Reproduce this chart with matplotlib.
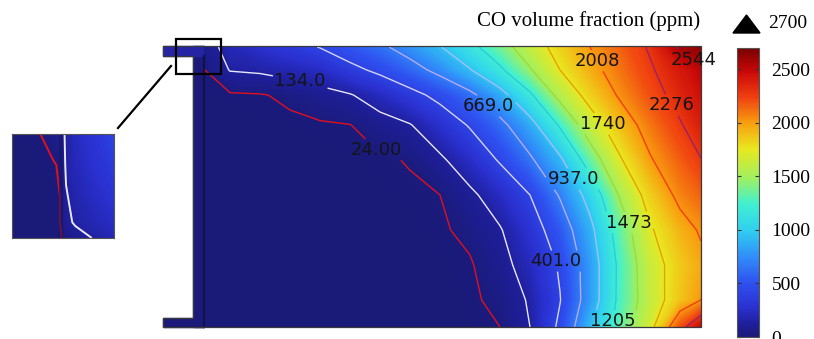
import numpy as np
import matplotlib
matplotlib.use("Agg")
import matplotlib.pyplot as plt
from matplotlib.colors import LinearSegmentedColormap, Normalize
from matplotlib.patches import Polygon, Rectangle
from matplotlib.path import Path

# CO volume fraction (ppm) sampled on a coarse grid over the domain (image pixels)
grid_x = [204, 230, 260, 290, 320, 350, 380, 410, 440, 470, 500, 530, 560, 590, 620, 650, 680, 701]
grid_y = [47, 70, 95, 125, 160, 195, 230, 265, 300, 327]
co_ppm = [
    [60, 193, 264, 335, 408, 517, 626, 765, 926, 1134, 1367, 1615, 1829, 2008, 2147, 2298, 2573, 2650],
    [20, 140, 153, 186, 230, 344, 446, 580, 733, 924, 1164, 1453, 1740, 1941, 2105, 2252, 2403, 2510],
    [8, 12, 18, 40, 82, 123, 218, 332, 463, 617, 848, 1170, 1548, 1827, 2035, 2196, 2348, 2450],
    [3, 4, 5, 8, 14, 22, 70, 125, 262, 420, 607, 848, 1235, 1617, 1891, 2096, 2260, 2380],
    [1, 1, 2, 2, 4, 7, 13, 29, 104, 241, 422, 634, 892, 1331, 1717, 1990, 2158, 2270],
    [0, 0, 1, 1, 2, 3, 6, 12, 24, 99, 227, 401, 689, 1026, 1497, 1839, 2062, 2150],
    [0, 0, 0, 1, 1, 2, 3, 6, 13, 44, 121, 286, 529, 870, 1327, 1713, 1928, 2030],
    [0, 0, 0, 0, 1, 1, 2, 4, 8, 16, 79, 209, 425, 791, 1263, 1633, 1853, 1960],
    [0, 0, 0, 0, 0, 1, 1, 2, 5, 12, 43, 150, 393, 791, 1269, 1613, 1874, 2010],
    [0, 0, 0, 0, 0, 0, 1, 1, 3, 9, 24, 134, 446, 905, 1317, 1667, 2199, 2480],
]

levels = [24, 134, 401, 669, 937, 1205, 1473, 1740, 2008, 2276, 2544]
level_labels = ["24.00", "134.0", "401.0", "669.0", "937.0", "1205", "1473", "1740", "2008", "2276", "2544"]
label_xy = [(384, 142), (300, 82), (558, 260), (492, 102), (577, 177), (608, 320),
            (630, 222), (605, 122), (597, 61), (667, 108), (697, 55)]
line_colors = ["#e0101e", "#e8e8f8", "#d4d4f8", "#b4aaf0", "#a0c0f8", "#30c8e0",
               "#a8d830", "#e8a000", "#f04010", "#a02060", "#8a1a6a"]

# zoomed corner (inset), normalised coordinates
inset_x = [0, 0.25, 0.40, 0.47, 0.53, 0.62, 0.8, 1.0]
inset_y = [0, 0.3, 0.6, 0.85, 1.0]
inset_ppm = [
    [6, 18, 50, 100, 145, 210, 300, 400],
    [4, 10, 18, 30, 150, 200, 270, 350],
    [3, 6, 12, 24, 125, 170, 230, 290],
    [2, 5, 10, 24, 100, 150, 190, 240],
    [2, 4, 8, 18, 40, 80, 140, 190],
]

cbar_ticks = [0, 500, 1000, 1500, 2000, 2500]
vmax = 2700

# colour table
cmap = LinearSegmentedColormap.from_list("comsol_rainbow", list(zip(
    [0, 0.04, 0.10, 0.185, 0.28, 0.37, 0.46, 0.55, 0.65, 0.74, 0.83, 0.92, 1.0],
    ["#1a1a78", "#1e1e98", "#2a30d0", "#2f50f0", "#3090f8", "#30d0f0", "#40f0d0",
     "#a0f060", "#e8e820", "#f8a010", "#f04010", "#c80808", "#7a0000"])))

serif = "Liberation Serif"


def cut_under_labels(fig, ax, cs, texts, pad=1.5):
    """break the contour lines where the (horizontal) labels sit"""
    fig.canvas.draw()
    r = fig.canvas.get_renderer()
    inv = ax.transData.inverted()
    boxes = []
    for t in texts:
        bb = t.get_window_extent(r)
        (x0, y0), (x1, y1) = inv.transform([[bb.x0 - pad, bb.y0 - pad], [bb.x1 + pad, bb.y1 + pad]])
        boxes.append((min(x0, x1), max(x0, x1), min(y0, y1), max(y0, y1)))
    new_paths = []
    for p in cs.get_paths():
        verts, codes = [], []
        for seg in p.to_polygons(closed_only=False):
            if len(seg) < 2:
                continue
            s = np.concatenate([[0], np.cumsum(np.hypot(*np.diff(seg, axis=0).T))])
            ss = np.linspace(0, s[-1], max(int(s[-1] * 2), 2))
            pts = np.column_stack([np.interp(ss, s, seg[:, 0]), np.interp(ss, s, seg[:, 1])])
            inside = np.zeros(len(pts), bool)
            for x0, x1, y0, y1 in boxes:
                inside |= (pts[:, 0] > x0) & (pts[:, 0] < x1) & (pts[:, 1] > y0) & (pts[:, 1] < y1)
            prev = False
            for pt, ins in zip(pts, inside):
                if ins:
                    prev = False
                    continue
                verts.append(pt)
                codes.append(Path.LINETO if prev else Path.MOVETO)
                prev = True
        if verts:
            new_paths.append(Path(np.array(verts), codes))
        else:
            new_paths.append(Path(np.zeros((0, 2))))
    cs.set_paths(new_paths)


fig = plt.figure(figsize=(8.14, 3.39), dpi=100)
fig.patch.set_facecolor("white")
ax = fig.add_axes([0, 0, 1, 1])
ax.set_xlim(0, 814)
ax.set_ylim(339, 0)
ax.axis("off")

# wall / flanges
ax.add_patch(Rectangle((193, 46), 11, 281, color="#1b1a7a", zorder=1))
ax.add_patch(Rectangle((163, 46), 41, 10, color="#2424a4", zorder=1))
ax.add_patch(Rectangle((163, 318), 41, 9, color="#1b1a7a", zorder=1))

GX, GY = np.meshgrid(grid_x, grid_y)
Z = np.array(co_ppm, dtype=float)
ax.contourf(GX, GY, Z, levels=np.linspace(0, vmax, 271), cmap=cmap,
            vmin=0, vmax=vmax, extend="both", zorder=1)
cs = ax.contour(GX, GY, Z, levels=levels, colors=line_colors, linewidths=1.0, zorder=2)
labs = ax.clabel(cs, manual=label_xy, inline=False,
                 fmt=dict(zip(levels, level_labels)), fontsize=13, colors="#151515")
for t in labs:
    t.set_rotation(0)

# outline of the geometry
ax.plot([204, 204], [56, 327], color="#12124a", lw=1.6, zorder=3)
ax.add_patch(Polygon([(163, 46), (701, 46), (701, 327), (163, 327), (163, 318),
                      (193, 318), (193, 56), (163, 56)], closed=True, fill=False,
                     edgecolor="#3a3a3a", lw=0.9, zorder=3))

# zoom box and connector
ax.add_patch(Rectangle((176, 39), 45, 35, fill=False, edgecolor="k", lw=1.6, zorder=5))
ax.plot([118, 171], [128, 66], color="k", lw=1.6, zorder=5)

# title, max marker
ax.text(700, 21, "CO volume fraction (ppm)", ha="right", va="center", fontsize=15, family=serif)
ax.add_patch(Polygon([(733, 33), (760, 33), (746.5, 15)], closed=True, color="k"))
ax.text(768, 23.5, "2700", ha="left", va="center", fontsize=14, family=serif)

# inset
iax = fig.add_axes([12 / 814, (339 - 238) / 339, 102 / 814, 104 / 339])
IX, IY = np.meshgrid(inset_x, inset_y)
IZ = np.array(inset_ppm, dtype=float)
iax.contourf(IX, IY, IZ, levels=np.linspace(0, vmax, 271), cmap=cmap, vmin=0, vmax=vmax, extend="both")
iax.contour(IX, IY, IZ, levels=levels[:2], colors=line_colors[:2], linewidths=1.4)
iax.axvline(0.485, color="#161660", lw=3, alpha=0.6)
iax.set_xlim(0, 1)
iax.set_ylim(1, 0)
iax.set_xticks([])
iax.set_yticks([])
for s in iax.spines.values():
    s.set_color("#555555")
    s.set_linewidth(0.8)

# colour bar
cax = fig.add_axes([737 / 814, 2 / 339, 22 / 814, 289 / 339])
sm = plt.cm.ScalarMappable(norm=Normalize(0, vmax), cmap=cmap)
cb = fig.colorbar(sm, cax=cax, ticks=cbar_ticks)
cb.ax.tick_params(direction="in", length=3, width=0.8, colors="#333333", labelcolor="k",
                  labelsize=14, pad=9, left=True)
for lab in cb.ax.get_yticklabels():
    lab.set_fontfamily(serif)
cb.outline.set_edgecolor("#555555")
cb.outline.set_linewidth(0.8)

cut_under_labels(fig, ax, cs, labs)

fig.savefig("out.png", dpi=100)
